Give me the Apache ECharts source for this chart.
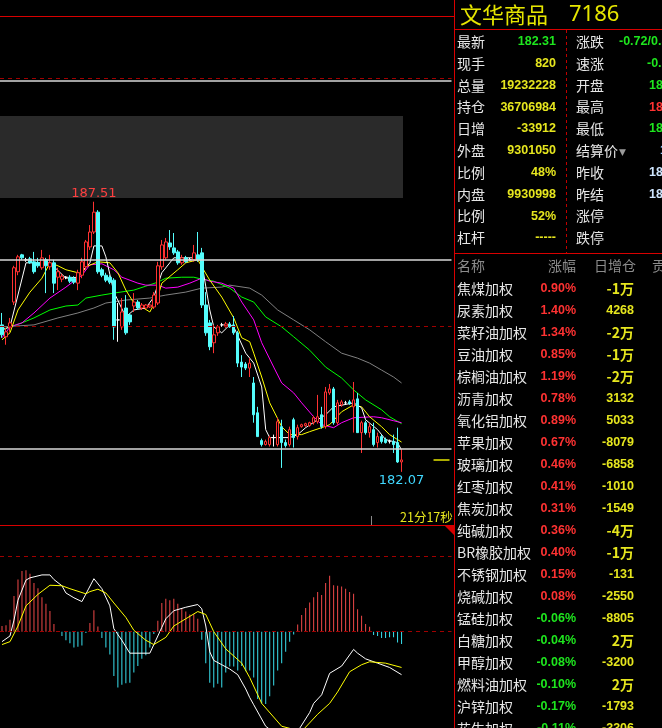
<!DOCTYPE html>
<html><head><meta charset="utf-8">
<script src="https://cdn.jsdelivr.net/npm/echarts@6/dist/echarts.min.js"></script>
<style>html,body{margin:0;padding:0;background:#000;}#c{width:662px;height:728px;}</style>
</head><body><div id="c"></div>
<script>
// ---------- K-line data: [open, close, low, high] ----------
const candleOHLC = [
[185.03,184.83,184.77,185.27],[184.79,184.89,184.63,184.97],[184.97,185.07,184.89,185.17],[185.49,186.18,185.43,186.22],
[186.10,186.40,186.03,186.44],[186.44,186.38,186.34,186.46],[186.34,186.34,186.30,186.38],[186.36,186.28,186.26,186.40],
[186.30,186.10,186.06,186.50],[186.28,186.22,186.18,186.38],[186.18,186.38,186.14,186.54],[186.34,186.22,185.67,186.38],
[186.20,186.28,186.14,186.44],[186.28,185.87,185.67,186.34],[185.99,186.10,185.73,186.18],[185.95,186.01,185.89,186.06],
[185.99,185.99,185.95,186.01],[185.99,185.91,185.87,186.03],[185.97,185.89,185.85,186.01],[185.87,186.08,185.73,186.14],
[186.03,186.30,185.97,186.38],[186.20,186.70,186.14,186.74],[186.60,186.90,186.54,187.04],[186.90,187.30,186.86,187.51],
[187.30,186.10,186.06,187.34],[186.14,186.03,185.99,186.18],[186.03,185.93,185.89,186.08],[185.99,185.89,185.85,186.03],
[185.93,184.99,184.73,185.97],[185.13,185.13,184.69,185.47],[184.99,185.29,184.93,185.57],[185.37,184.87,184.83,185.63],
[185.23,185.09,185.03,185.27],[185.41,185.49,185.29,185.67],[185.49,185.37,185.33,185.53],[185.37,185.43,185.33,185.47],
[185.37,185.43,185.35,185.45],[185.39,185.43,185.37,185.45],[185.39,185.63,185.35,185.69],[185.47,186.22,185.43,186.30],
[186.20,186.64,186.14,186.74],[186.38,186.70,186.34,186.78],[186.68,186.60,186.54,186.94],[186.58,186.48,186.44,186.88],
[186.50,186.28,186.24,186.54],[186.28,186.38,186.24,186.44],[186.38,186.30,186.28,186.42],[186.34,186.34,186.32,186.38],
[186.34,186.48,186.30,186.64],[186.44,186.34,186.30,186.90],[186.48,185.43,185.37,186.58],[185.43,184.87,184.81,185.69],
[185.07,184.59,184.52,185.13],[184.67,184.83,184.46,185.03],[184.87,184.99,184.81,185.03],[185.03,185.03,184.99,185.07],
[185.01,185.05,184.97,185.09],[185.05,184.99,184.97,185.09],[185.03,184.87,184.83,185.21],[184.87,184.26,184.18,184.91],
[184.28,184.18,183.98,184.42],[184.24,184.16,184.12,184.28],[184.16,184.26,183.98,184.36],[183.86,183.22,183.06,183.98],
[183.26,182.78,182.78,183.38],[182.70,182.62,182.58,182.74],[182.62,182.68,182.60,182.72],[182.62,182.76,182.58,182.80],
[182.76,182.76,182.58,182.82],[182.62,183.08,182.58,183.16],[182.98,182.66,182.15,183.12],[182.66,182.60,182.56,182.72],
[182.62,182.92,182.58,182.98],[183.12,182.76,182.56,183.16],[182.78,182.96,182.72,183.02],[182.98,183.02,182.96,183.04],
[183.00,183.04,182.98,183.06],[183.00,183.06,182.98,183.08],[183.06,183.16,183.02,183.20],[183.08,183.18,183.04,183.62],
[183.22,182.98,182.94,183.38],[182.98,183.68,182.94,183.78],[183.66,183.74,183.62,183.84],[183.74,183.06,183.02,183.78],
[183.06,183.46,183.02,183.52],[183.42,183.48,183.38,183.52],[183.46,183.46,183.42,183.50],[183.48,183.44,183.42,183.52],
[183.38,183.52,182.86,183.88],[183.54,182.86,182.86,183.66],[182.86,183.06,182.45,183.10],[183.06,182.86,182.82,183.10],
[182.86,182.98,182.76,183.06],[182.92,182.62,182.58,183.06],[182.66,182.78,182.56,182.86],[182.78,182.68,182.64,182.82],
[182.72,182.66,182.64,182.76],[182.68,182.68,182.64,182.72],[182.68,182.62,182.45,182.82],[182.66,182.27,182.25,182.96],
[182.27,182.31,182.07,182.53]
];
// moving-average polylines: [candle index, price]
const maWhite = [[0,184.93],[2,184.99],[6,186.28],[9,186.28],[12,186.28],[16,185.97],[19,185.99],[20,186.10],[22,186.28],[23,186.62],[25,186.62],[26,186.40],[28,185.69],[31,185.19],[33,185.33],[36,185.37],[38,185.59],[40,186.08],[43,186.38],[49,186.38],[50,186.28],[52,185.33],[53,184.99],[55,184.87],[57,185.03],[58,184.99],[61,184.46],[63,184.26],[65,183.78],[66,182.92],[67,182.76],[72,182.76],[74,182.82],[76,182.96],[79,183.12],[81,183.22],[83,183.38],[88,183.46],[90,183.36],[91,183.12],[94,182.92],[96,182.72],[99,182.66],[100,182.51]];
const maYellow = [[0,184.73],[2,184.87],[4,185.33],[7,185.69],[10,185.97],[12,186.28],[14,186.22],[16,186.14],[20,186.06],[21,186.20],[24,186.30],[27,186.28],[29,186.08],[31,185.73],[33,185.47],[35,185.39],[37,185.29],[39,185.59],[40,185.87],[44,186.14],[46,186.28],[49,186.34],[50,186.20],[52,185.93],[55,185.59],[58,185.17],[60,184.77],[62,184.69],[63,184.46],[65,183.98],[67,183.46],[70,182.98],[72,182.82],[75,182.82],[77,182.88],[80,182.96],[82,183.02],[85,183.28],[88,183.42],[90,183.38],[92,183.18],[95,182.98],[97,182.82],[100,182.67]];
const maMagenta = [[0,184.77],[2,184.99],[5,185.07],[8,185.27],[12,185.57],[16,185.79],[20,186.03],[22,186.24],[25,186.26],[28,186.14],[30,185.99],[34,185.87],[36,185.83],[39,185.83],[41,185.77],[44,185.79],[47,185.87],[50,185.97],[52,185.91],[55,185.87],[58,185.77],[60,185.49],[63,185.13],[65,184.67],[68,184.18],[70,183.86],[73,183.66],[75,183.46],[78,183.18],[80,183.02],[83,182.96],[85,183.06],[88,183.16],[93,183.18],[95,183.16],[98,183.10],[100,183.06]];
const maGreen = [[0,184.93],[2,184.99],[5,185.07],[8,185.17],[12,185.33],[16,185.41],[19,185.43],[21,185.57],[25,185.63],[28,185.67],[33,185.73],[36,185.81],[39,185.89],[41,185.97],[45,185.99],[48,185.99],[50,185.95],[53,185.91],[57,185.77],[60,185.59],[63,185.49],[66,185.19],[70,184.99],[73,184.79],[77,184.52],[81,184.18],[85,183.96],[88,183.72],[91,183.52],[95,183.32],[97,183.18],[100,183.04]];
const maGray = [[0,184.99],[8,185.03],[14,185.17],[19,185.27],[23,185.37],[26,185.47],[31,185.53],[37,185.57],[41,185.63],[46,185.69],[50,185.77],[55,185.79],[57,185.83],[62,185.77],[65,185.63],[69,185.33],[73,185.13],[77,184.93],[81,184.69],[85,184.46],[89,184.36],[92,184.26],[95,184.12],[98,183.98],[100,183.86]];
const horizLinesWhite = [189.94, 186.34, 182.53];
const gridLinesDashed = [190, 185];
// MACD
const macdHist = [0.033,0.037,0.070,0.208,0.303,0.353,0.357,0.337,0.283,0.253,0.200,0.162,0.120,0.045,0.000,-0.025,-0.050,-0.067,-0.092,-0.087,-0.080,-0.008,0.050,0.125,0.030,-0.037,-0.092,-0.133,-0.258,-0.325,-0.308,-0.300,-0.297,-0.237,-0.200,-0.158,-0.137,-0.092,-0.013,0.063,0.167,0.192,0.183,0.192,0.162,0.137,0.117,0.100,0.103,0.075,-0.047,-0.183,-0.297,-0.325,-0.303,-0.325,-0.237,-0.203,-0.203,-0.225,-0.200,-0.230,-0.225,-0.267,-0.392,-0.417,-0.420,-0.375,-0.313,-0.225,-0.183,-0.117,-0.058,-0.017,0.042,0.097,0.137,0.170,0.200,0.230,0.213,0.283,0.325,0.270,0.267,0.263,0.250,0.230,0.220,0.130,0.092,0.045,0.028,-0.020,-0.025,-0.037,-0.037,-0.033,-0.033,-0.063,-0.072];
const macdDIF = [[0,-0.058],[2,-0.025],[3,0.067],[4,0.183],[6,0.300],[7,0.313],[10,0.330],[12,0.330],[13,0.303],[15,0.267],[16,0.225],[18,0.197],[20,0.175],[23,0.308],[25,0.250],[27,0.150],[28,0.017],[30,-0.050],[32,-0.125],[37,-0.125],[38,-0.075],[40,0.025],[41,0.075],[43,0.122],[46,0.142],[49,0.158],[50,0.133],[51,0.033],[52,-0.117],[53,-0.167],[55,-0.192],[57,-0.217],[59,-0.250],[61,-0.333],[62,-0.383],[63,-0.425],[66,-0.55],[70,-0.62],[74,-0.58],[77,-0.47],[78,-0.417],[80,-0.367],[82,-0.242],[85,-0.200],[88,-0.103],[89,-0.125],[91,-0.158],[94,-0.183],[97,-0.208],[100,-0.250]];
const macdDEA = [[0,-0.075],[2,-0.058],[4,0.033],[6,0.150],[9,0.217],[12,0.270],[15,0.267],[17,0.250],[21,0.220],[22,0.233],[24,0.247],[26,0.225],[28,0.167],[31,0.083],[33,0.008],[36,-0.050],[38,-0.075],[41,-0.033],[43,0.033],[46,0.075],[49,0.117],[51,0.100],[53,0.000],[56,-0.100],[60,-0.183],[62,-0.267],[65,-0.417],[70,-0.55],[75,-0.58],[79,-0.48],[82,-0.417],[84,-0.350],[87,-0.233],[90,-0.192],[92,-0.175],[96,-0.183],[100,-0.208]];
// Quote panel
const titleName = '文华商品';
const titleCode = '7186';
const quoteLabelsL = ['最新','现手','总量','持仓','日增','外盘','比例','内盘','比例','杠杆'];
const quoteValuesL = ['182.31','820','19232228','36706984','-33912','9301050','48%','9930998','52%','-----'];
const quoteLabelsR = ['涨跌','速涨','开盘','最高','最低','结算价','昨收','昨结','涨停','跌停'];
const quoteValuesR = ['-0.72/0.39%','-0.01','182.95','183.40','182.07','182.6','182.98','183.03','',''];
const countdownText = '21分17秒';
// Watch list
const listHeader = ['名称','涨幅','日增仓','贡'];
const listNames = ['焦煤加权','尿素加权','菜籽油加权','豆油加权','棕榈油加权','沥青加权','氧化铝加权','苹果加权','玻璃加权','红枣加权','焦炭加权','纯碱加权','BR橡胶加权','不锈钢加权','烧碱加权','锰硅加权','白糖加权','甲醇加权','燃料油加权','沪锌加权','花生加权'];
const listChange = ['0.90%','1.40%','1.34%','0.85%','1.19%','0.78%','0.89%','0.67%','0.46%','0.41%','0.31%','0.36%','0.40%','0.15%','0.08%','-0.06%','-0.04%','-0.08%','-0.10%','-0.17%','-0.11%'];
const listOI = ['-1万','4268','-2万','-1万','-2万','3132','5033','-8079','-6858','-1010','-1549','-4万','-1万','-131','-2550','-8805','2万','-3200','2万','-1793','-3306'];

// ---------- build ----------
const SLOTS = 113;
const slots = Array.from({length: SLOTS}, (_, i) => String(i));
const RED = '#ff3232', CYAN = '#54fcfc', YEL = '#e6e61e', GRN = '#1ee61e', WHT = '#e6e6e6';
const CJK = '"Noto Sans CJK SC", sans-serif';
const NUM = 'bold 12.5px "Liberation Sans", Arial, sans-serif';

let hiIdx = 0, loIdx = 0;
candleOHLC.forEach((d, i) => { if (d[3] > candleOHLC[hiIdx][3]) hiIdx = i; if (d[2] < candleOHLC[loIdx][2]) loIdx = i; });
const last = candleOHLC.length - 1;
const lastPrice = candleOHLC[last][1];

function T(x, y, text, fill, font, align) {
  return {type: 'text', z: 20, silent: true, style: {x: x, y: y, text: text, fill: fill, font: font,
    align: align || 'left', textAlign: align || 'left', verticalAlign: 'middle', textVerticalAlign: 'middle'}};
}
function L(x1, y1, x2, y2, color, w, dash) {
  return {type: 'line', z: 15, silent: true, shape: {x1: x1, y1: y1, x2: x2, y2: y2},
    style: {stroke: color, lineWidth: w || 1, lineDash: dash || null}};
}

const g = [];
g.push({type: 'rect', z: 0, silent: true, shape: {x: 0, y: 116, width: 403, height: 82}, style: {fill: '#2a2a2a'}});
g.push(L(0, 16.5, 454, 16.5, '#d80000'));
g.push(L(454.5, 0, 454.5, 728, '#d80000'));
g.push(L(454, 29.5, 662, 29.5, '#d80000'));
g.push(L(454, 253.5, 662, 253.5, '#d80000'));
g.push(L(566.5, 30, 566.5, 253, '#c00000', 1, [3, 3]));
g.push(L(0, 525.5, 454, 525.5, '#d80000'));
g.push({type: 'polygon', z: 15, silent: true, shape: {points: [[444, 525], [454, 525], [454, 535]]}, style: {fill: '#d80000'}});
g.push(L(371.5, 516, 371.5, 525, '#8a8a8a'));
g.push(T(400, 517, countdownText, YEL, '12.5px ' + CJK));
// title
g.push(T(460, 15, titleName, '#e6e600', '22px ' + CJK));
g.push(T(569, 15, titleCode, '#e6e600', '22px "Noto Sans", sans-serif'));
// quote table
const rowY = i => 41.7 + 21.8 * i;
quoteLabelsL.forEach((s, i) => {
  g.push(T(457, rowY(i), s, WHT, '14px ' + CJK));
  g.push(T(556, rowY(i), quoteValuesL[i], i === 0 ? GRN : YEL, NUM, 'right'));
});
const rColors = [GRN, GRN, GRN, RED, GRN, '#8ec8ff', '#cfe6ff', '#cfe6ff', WHT, WHT];
const rX = [619, 647, 649, 649, 649, 660, 649, 649, 649, 649];
quoteLabelsR.forEach((s, i) => {
  g.push(T(576, rowY(i), s, WHT, '14px ' + CJK));
  if (quoteValuesR[i]) g.push(T(rX[i], rowY(i), quoteValuesR[i], rColors[i], NUM));
});
g.push(T(619, rowY(5) + 2, '▼', '#9a9a9a', '9px "DejaVu Sans", sans-serif'));
// watch list
const hx = [457, 548, 594, 652];
listHeader.forEach((s, i) => g.push(T(hx[i], 266, s, '#8c8c8c', '14px ' + CJK)));
listNames.forEach((s, i) => {
  const y = 289 + 22 * i;
  g.push(T(457, y, s, WHT, '14px ' + CJK));
  const neg = listChange[i].charAt(0) === '-';
  g.push(T(576, y, listChange[i], neg ? GRN : RED, NUM, 'right'));
  g.push(T(634, y, listOI[i], YEL, (listOI[i].indexOf('万') >= 0 ? 'bold 14px ' + CJK : NUM), 'right'));
});

const maLine = (data, color) => ({type: 'line', xAxisIndex: 0, yAxisIndex: 0, data: data, symbol: 'none',
  lineStyle: {color: color, width: 1}, z: 3, silent: true});

const option = {
  backgroundColor: '#000',
  animation: false,
  grid: [
    {left: -0.5, width: 452, top: 16, height: 509},
    {left: -0.5, width: 452, top: 556, height: 200}
  ],
  xAxis: [
    {type: 'category', gridIndex: 0, data: slots, show: false, boundaryGap: true},
    {type: 'category', gridIndex: 1, data: slots, show: false, boundaryGap: true}
  ],
  yAxis: [
    {type: 'value', gridIndex: 0, min: 181, max: 191.25, show: false, splitLine: {show: false}},
    {type: 'value', gridIndex: 1, min: -0.56, max: 0.44, show: false, splitLine: {show: false}}
  ],
  graphic: {elements: g},
  series: [
    {type: 'candlestick', xAxisIndex: 0, yAxisIndex: 0, data: candleOHLC, barWidth: 3, z: 4, silent: true,
      itemStyle: {color: '#000', color0: CYAN, borderColor: RED, borderColor0: CYAN, borderColorDoji: '#ffffff', borderWidth: 1},
      markLine: {silent: true, symbol: 'none', label: {show: false}, animation: false,
        data: gridLinesDashed.map(v => ({yAxis: v, lineStyle: {color: '#a00000', type: [4, 4], width: 1}}))
          .concat(horizLinesWhite.map(v => ({yAxis: v, lineStyle: {color: '#d8d8d8', type: 'solid', width: 1.5}})))
          .concat([[{coord: [108, lastPrice], lineStyle: {color: '#e6e600', type: 'solid', width: 1.5}}, {coord: [112, lastPrice]}]])
      },
      markPoint: {silent: true, symbol: 'circle', symbolSize: 0, animation: false,
        label: {show: true, position: 'inside', fontSize: 13, fontFamily: '"DejaVu Sans", sans-serif'},
        data: [
          {coord: [hiIdx, candleOHLC[hiIdx][3]], value: candleOHLC[hiIdx][3].toFixed(2), label: {color: '#ff4040', offset: [0, -8], formatter: '{c}'}},
          {coord: [loIdx, candleOHLC[loIdx][2]], value: candleOHLC[loIdx][2].toFixed(2), label: {color: '#40d8ff', offset: [0, 9], formatter: '{c}'}}
        ]}
    },
    maLine(maGray, '#808080'),
    maLine(maGreen, '#00ff00'),
    maLine(maMagenta, '#ff00ff'),
    maLine(maYellow, '#ffff00'),
    maLine(maWhite, '#ffffff'),
    {type: 'bar', xAxisIndex: 1, yAxisIndex: 1, data: macdHist, barWidth: 1, silent: true,
      itemStyle: {color: p => (p.value >= 0 ? '#f04848' : '#38e0ee')},
      markLine: {silent: true, symbol: 'none', label: {show: false}, animation: false,
        data: [{yAxis: 0}, {yAxis: 0.4395}], lineStyle: {color: '#a00000', type: [4, 4], width: 1}}},
    {type: 'line', xAxisIndex: 1, yAxisIndex: 1, data: macdDIF, symbol: 'none', lineStyle: {color: '#ffffff', width: 1}, silent: true},
    {type: 'line', xAxisIndex: 1, yAxisIndex: 1, data: macdDEA, symbol: 'none', lineStyle: {color: '#ffff00', width: 1}, silent: true}
  ]
};
const chart = echarts.init(document.getElementById('c'));
chart.setOption(option);
</script></body></html>
